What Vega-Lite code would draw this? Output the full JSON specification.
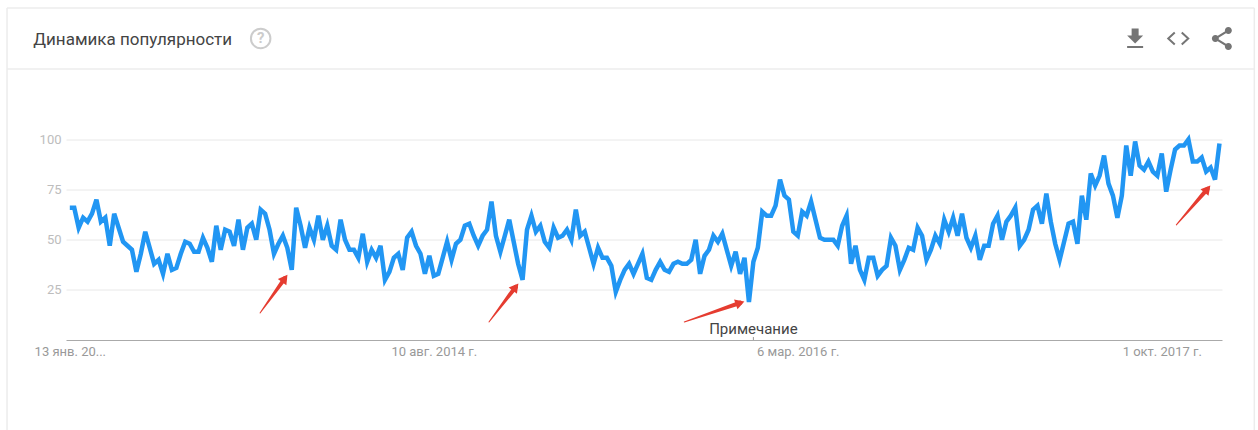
{"$schema":"https://vega.github.io/schema/vega-lite/v6.json","width":1156,"height":200.5,"autosize":"none","padding":{"left":66,"top":139.5,"right":36,"bottom":90},"background":"white","config":{"view":{"stroke":null}},
"title":{"text":"Динамика популярности","anchor":"start","dx":27,"offset":-42,"font":"Roboto","fontSize":17,"fontWeight":"normal","color":"#444444"},
"datasets":{
"trend":[{"d":"2013-01-13","v":66},{"d":"2013-01-20","v":66},{"d":"2013-01-27","v":56},{"d":"2013-02-03","v":61},{"d":"2013-02-10","v":59},{"d":"2013-02-17","v":63},{"d":"2013-02-24","v":70},{"d":"2013-03-03","v":59},{"d":"2013-03-10","v":61},{"d":"2013-03-17","v":47},{"d":"2013-03-24","v":63},{"d":"2013-03-31","v":56},{"d":"2013-04-07","v":49},{"d":"2013-04-14","v":47},{"d":"2013-04-21","v":45},{"d":"2013-04-28","v":34},{"d":"2013-05-05","v":43},{"d":"2013-05-12","v":54},{"d":"2013-05-19","v":46},{"d":"2013-05-26","v":38},{"d":"2013-06-02","v":40},{"d":"2013-06-09","v":33},{"d":"2013-06-16","v":43},{"d":"2013-06-23","v":35},{"d":"2013-06-30","v":36},{"d":"2013-07-07","v":43},{"d":"2013-07-14","v":49},{"d":"2013-07-21","v":48},{"d":"2013-07-28","v":44},{"d":"2013-08-04","v":44},{"d":"2013-08-11","v":51},{"d":"2013-08-18","v":46},{"d":"2013-08-25","v":39},{"d":"2013-09-01","v":57},{"d":"2013-09-08","v":45},{"d":"2013-09-15","v":55},{"d":"2013-09-22","v":54},{"d":"2013-09-29","v":47},{"d":"2013-10-06","v":60},{"d":"2013-10-13","v":45},{"d":"2013-10-20","v":56},{"d":"2013-10-27","v":58},{"d":"2013-11-03","v":50},{"d":"2013-11-10","v":65},{"d":"2013-11-17","v":63},{"d":"2013-11-24","v":55},{"d":"2013-12-01","v":43},{"d":"2013-12-08","v":48},{"d":"2013-12-15","v":52},{"d":"2013-12-22","v":46},{"d":"2013-12-29","v":35},
{"d":"2014-01-05","v":66},{"d":"2014-01-12","v":57},{"d":"2014-01-19","v":46},{"d":"2014-01-26","v":56},{"d":"2014-02-02","v":50},{"d":"2014-02-09","v":62},{"d":"2014-02-16","v":50},{"d":"2014-02-23","v":57},{"d":"2014-03-02","v":47},{"d":"2014-03-09","v":45},{"d":"2014-03-16","v":60},{"d":"2014-03-23","v":50},{"d":"2014-03-30","v":45},{"d":"2014-04-06","v":45},{"d":"2014-04-13","v":41},{"d":"2014-04-20","v":53},{"d":"2014-04-27","v":39},{"d":"2014-05-04","v":45},{"d":"2014-05-11","v":41},{"d":"2014-05-18","v":47},{"d":"2014-05-25","v":30},{"d":"2014-06-01","v":34},{"d":"2014-06-08","v":41},{"d":"2014-06-15","v":43},{"d":"2014-06-22","v":35},{"d":"2014-06-29","v":51},{"d":"2014-07-06","v":54},{"d":"2014-07-13","v":47},{"d":"2014-07-20","v":43},{"d":"2014-07-27","v":33},{"d":"2014-08-03","v":42},{"d":"2014-08-10","v":32},{"d":"2014-08-17","v":33},{"d":"2014-08-24","v":41},{"d":"2014-08-31","v":49},{"d":"2014-09-07","v":40},{"d":"2014-09-14","v":48},{"d":"2014-09-21","v":50},{"d":"2014-09-28","v":57},{"d":"2014-10-05","v":58},{"d":"2014-10-12","v":52},{"d":"2014-10-19","v":47},{"d":"2014-10-26","v":52},{"d":"2014-11-02","v":55},{"d":"2014-11-09","v":69},{"d":"2014-11-16","v":52},{"d":"2014-11-23","v":44},{"d":"2014-11-30","v":52},{"d":"2014-12-07","v":60},{"d":"2014-12-14","v":49},{"d":"2014-12-21","v":38},{"d":"2014-12-28","v":30},
{"d":"2015-01-04","v":55},{"d":"2015-01-11","v":62},{"d":"2015-01-18","v":54},{"d":"2015-01-25","v":57},{"d":"2015-02-01","v":49},{"d":"2015-02-08","v":46},{"d":"2015-02-15","v":56},{"d":"2015-02-22","v":51},{"d":"2015-03-01","v":52},{"d":"2015-03-08","v":55},{"d":"2015-03-15","v":50},{"d":"2015-03-22","v":65},{"d":"2015-03-29","v":52},{"d":"2015-04-05","v":54},{"d":"2015-04-12","v":46},{"d":"2015-04-19","v":38},{"d":"2015-04-26","v":46},{"d":"2015-05-03","v":41},{"d":"2015-05-10","v":41},{"d":"2015-05-17","v":37},{"d":"2015-05-24","v":24},{"d":"2015-05-31","v":30},{"d":"2015-06-07","v":35},{"d":"2015-06-14","v":38},{"d":"2015-06-21","v":33},{"d":"2015-06-28","v":38},{"d":"2015-07-05","v":43},{"d":"2015-07-12","v":31},{"d":"2015-07-19","v":30},{"d":"2015-07-26","v":35},{"d":"2015-08-02","v":39},{"d":"2015-08-09","v":35},{"d":"2015-08-16","v":34},{"d":"2015-08-23","v":38},{"d":"2015-08-30","v":39},{"d":"2015-09-06","v":38},{"d":"2015-09-13","v":38},{"d":"2015-09-20","v":40},{"d":"2015-09-27","v":50},{"d":"2015-10-04","v":33},{"d":"2015-10-11","v":42},{"d":"2015-10-18","v":45},{"d":"2015-10-25","v":52},{"d":"2015-11-01","v":49},{"d":"2015-11-08","v":53},{"d":"2015-11-15","v":45},{"d":"2015-11-22","v":37},{"d":"2015-11-29","v":44},{"d":"2015-12-06","v":33},{"d":"2015-12-13","v":41},{"d":"2015-12-20","v":19},{"d":"2015-12-27","v":39},
{"d":"2016-01-03","v":46},{"d":"2016-01-10","v":64},{"d":"2016-01-17","v":62},{"d":"2016-01-24","v":62},{"d":"2016-01-31","v":67},{"d":"2016-02-07","v":80},{"d":"2016-02-14","v":72},{"d":"2016-02-21","v":70},{"d":"2016-02-28","v":54},{"d":"2016-03-06","v":52},{"d":"2016-03-13","v":64},{"d":"2016-03-20","v":62},{"d":"2016-03-27","v":69},{"d":"2016-04-03","v":60},{"d":"2016-04-10","v":51},{"d":"2016-04-17","v":50},{"d":"2016-04-24","v":50},{"d":"2016-05-01","v":50},{"d":"2016-05-08","v":47},{"d":"2016-05-15","v":57},{"d":"2016-05-22","v":62},{"d":"2016-05-29","v":38},{"d":"2016-06-05","v":47},{"d":"2016-06-12","v":35},{"d":"2016-06-19","v":30},{"d":"2016-06-26","v":41},{"d":"2016-07-03","v":41},{"d":"2016-07-10","v":32},{"d":"2016-07-17","v":35},{"d":"2016-07-24","v":37},{"d":"2016-07-31","v":51},{"d":"2016-08-07","v":47},{"d":"2016-08-14","v":35},{"d":"2016-08-21","v":40},{"d":"2016-08-28","v":46},{"d":"2016-09-04","v":45},{"d":"2016-09-11","v":56},{"d":"2016-09-18","v":52},{"d":"2016-09-25","v":40},{"d":"2016-10-02","v":45},{"d":"2016-10-09","v":52},{"d":"2016-10-16","v":48},{"d":"2016-10-23","v":60},{"d":"2016-10-30","v":54},{"d":"2016-11-06","v":61},{"d":"2016-11-13","v":52},{"d":"2016-11-20","v":63},{"d":"2016-11-27","v":51},{"d":"2016-12-04","v":46},{"d":"2016-12-11","v":52},{"d":"2016-12-18","v":40},{"d":"2016-12-25","v":47},
{"d":"2017-01-01","v":47},{"d":"2017-01-08","v":58},{"d":"2017-01-15","v":62},{"d":"2017-01-22","v":50},{"d":"2017-01-29","v":59},{"d":"2017-02-05","v":62},{"d":"2017-02-12","v":66},{"d":"2017-02-19","v":47},{"d":"2017-02-26","v":50},{"d":"2017-03-05","v":55},{"d":"2017-03-12","v":65},{"d":"2017-03-19","v":67},{"d":"2017-03-26","v":58},{"d":"2017-04-02","v":73},{"d":"2017-04-09","v":59},{"d":"2017-04-16","v":48},{"d":"2017-04-23","v":40},{"d":"2017-04-30","v":49},{"d":"2017-05-07","v":58},{"d":"2017-05-14","v":59},{"d":"2017-05-21","v":48},{"d":"2017-05-28","v":72},{"d":"2017-06-04","v":60},{"d":"2017-06-11","v":83},{"d":"2017-06-18","v":77},{"d":"2017-06-25","v":82},{"d":"2017-07-02","v":92},{"d":"2017-07-09","v":78},{"d":"2017-07-16","v":72},{"d":"2017-07-23","v":61},{"d":"2017-07-30","v":72},{"d":"2017-08-06","v":97},{"d":"2017-08-13","v":82},{"d":"2017-08-20","v":99},{"d":"2017-08-27","v":87},{"d":"2017-09-03","v":85},{"d":"2017-09-10","v":89},{"d":"2017-09-17","v":84},{"d":"2017-09-24","v":82},{"d":"2017-10-01","v":93},{"d":"2017-10-08","v":74},{"d":"2017-10-15","v":85},{"d":"2017-10-22","v":95},{"d":"2017-10-29","v":97},{"d":"2017-11-05","v":97},{"d":"2017-11-12","v":100},{"d":"2017-11-19","v":89},{"d":"2017-11-26","v":89},{"d":"2017-12-03","v":91},{"d":"2017-12-10","v":84},{"d":"2017-12-17","v":86},{"d":"2017-12-24","v":80},{"d":"2017-12-31","v":98}],
"arrows":[{"a":"1","d":"2013-11-09","v":13.5,"w":0},{"a":"1","d":"2013-12-18","v":30.7,"w":1},{"a":"2","d":"2014-11-05","v":9,"w":0},{"a":"2","d":"2014-12-17","v":26.4,"w":1},{"a":"3","d":"2015-09-09","v":9,"w":0},{"a":"3","d":"2015-12-06","v":18.5,"w":1},{"a":"4","d":"2017-10-24","v":57.4,"w":0},{"a":"4","d":"2017-12-12","v":75.3,"w":1}],
"heads":[{"d":"2013-12-18","v":30.7,"dir":36},{"d":"2014-12-17","v":26.4,"dir":38},{"d":"2015-12-06","v":18.5,"dir":71},{"d":"2017-12-12","v":75.3,"dir":40}],
"frame":[{"x":"2012-10-06","x2":"2018-02-24","y":165.6,"y2":165.6},{"x":"2012-10-06","x2":"2018-02-24","y":135.2,"y2":135.2},{"x":"2012-10-06","x2":"2012-10-06","y":165.6,"y2":-45},{"x":"2018-02-24","x2":"2018-02-24","y":165.6,"y2":-45}],
"note":[{"d":"2015-12-27","v":5.5,"v0":0,"v1":1.5,"label":"Примечание"}]
},
"layer":[
{"data":{"name":"frame"},"mark":{"type":"rule","color":"#ececec","strokeWidth":1.5},"encoding":{"x":{"field":"x","type":"temporal","scale":{"domain":["2013-01-07","2018-01-04"]},"axis":{"title":null,"values":["2013-01-13","2014-08-10","2016-03-06","2017-10-01"],"labelExpr":"{'2013':'13 янв. 20...','2014':'10 авг. 2014 г.','2016':'6 мар. 2016 г.','2017':'1 окт. 2017 г.'}[utcFormat(datum.value,'%Y')]","grid":false,"ticks":false,"domainColor":"#aaaaaa","domainWidth":1,"labelFont":"Roboto","labelFontSize":13,"labelColor":"#999999","labelPadding":5,"labelOverlap":false,"labelBound":false,"labelFlush":false}},"x2":{"field":"x2"},"y":{"field":"y","type":"quantitative","scale":{"domain":[0,100],"nice":false},"axis":{"title":null,"values":[25,50,75,100],"domain":false,"ticks":false,"grid":true,"gridColor":"#e8e8e8","gridWidth":1,"labelFont":"Roboto","labelFontSize":13,"labelColor":"#bdbdbd","labelPadding":5}},"y2":{"field":"y2"}}},
{"data":{"name":"trend"},"mark":{"type":"line","color":"#2196f3","strokeWidth":4.5,"strokeJoin":"miter"},"encoding":{"x":{"field":"d","type":"temporal","scale":{"domain":["2013-01-07","2018-01-04"]}},"y":{"field":"v","type":"quantitative","scale":{"domain":[0,100],"nice":false}}}},
{"data":{"name":"arrows"},"mark":{"type":"trail","color":"#e53c30"},"encoding":{"x":{"field":"d","type":"temporal","scale":{"domain":["2013-01-07","2018-01-04"]}},"y":{"field":"v","type":"quantitative","scale":{"domain":[0,100],"nice":false}},"detail":{"field":"a"},"size":{"field":"w","type":"quantitative","scale":{"domain":[0,1],"range":[1,4.5]},"legend":null}}},
{"data":{"name":"heads"},"mark":{"type":"point","shape":"triangle-up","filled":true,"color":"#e53c30","size":110,"opacity":1},"encoding":{"x":{"field":"d","type":"temporal","scale":{"domain":["2013-01-07","2018-01-04"]}},"y":{"field":"v","type":"quantitative","scale":{"domain":[0,100],"nice":false}},"angle":{"field":"dir","type":"quantitative","scale":null}}},
{"data":{"name":"note"},"mark":{"type":"rule","color":"#999999","strokeWidth":1},"encoding":{"x":{"field":"d","type":"temporal","scale":{"domain":["2013-01-07","2018-01-04"]}},"y":{"field":"v0","type":"quantitative","scale":{"domain":[0,100],"nice":false}},"y2":{"field":"v1"}}},
{"data":{"name":"note"},"mark":{"type":"text","font":"Roboto","fontSize":15,"color":"#444444","align":"center","baseline":"middle"},"encoding":{"x":{"field":"d","type":"temporal","scale":{"domain":["2013-01-07","2018-01-04"]}},"y":{"field":"v","type":"quantitative","scale":{"domain":[0,100],"nice":false}},"text":{"field":"label"}}},
{"data":{"values":[{"d":"2013-11-10","v":150.4}]},"mark":{"type":"point","shape":"circle","filled":false,"color":"#cccccc","strokeWidth":2,"size":380,"opacity":1},"encoding":{"x":{"field":"d","type":"temporal","scale":{"domain":["2013-01-07","2018-01-04"]}},"y":{"field":"v","type":"quantitative","scale":{"domain":[0,100],"nice":false}}}},
{"data":{"values":[{"d":"2013-11-10","v":150.4,"t":"?"}]},"mark":{"type":"text","font":"Roboto","fontSize":15,"fontWeight":"bold","color":"#cccccc","align":"center","baseline":"middle"},"encoding":{"x":{"field":"d","type":"temporal","scale":{"domain":["2013-01-07","2018-01-04"]}},"y":{"field":"v","type":"quantitative","scale":{"domain":[0,100],"nice":false}},"text":{"field":"t"}}},
{"data":{"values":[{"d":"2017-08-20","v":150.4}]},"mark":{"type":"point","shape":"M-0.35,-1 L0.35,-1 L0.35,-0.3 L0.8,-0.3 L0,0.5 L-0.8,-0.3 L-0.35,-0.3 Z M-0.8,0.75 L0.8,0.75 L0.8,0.95 L-0.8,0.95 Z","filled":true,"color":"#757575","size":400,"opacity":1},"encoding":{"x":{"field":"d","type":"temporal","scale":{"domain":["2013-01-07","2018-01-04"]}},"y":{"field":"v","type":"quantitative","scale":{"domain":[0,100],"nice":false}}}},
{"data":{"values":[{"d":"2017-10-27","v":150.4}]},"mark":{"type":"point","shape":"M-0.35,-0.6 L-1,0 L-0.35,0.6 M0.35,-0.6 L1,0 L0.35,0.6","filled":false,"color":"#757575","strokeWidth":2,"size":400,"opacity":1},"encoding":{"x":{"field":"d","type":"temporal","scale":{"domain":["2013-01-07","2018-01-04"]}},"y":{"field":"v","type":"quantitative","scale":{"domain":[0,100],"nice":false}}}},
{"data":{"values":[{"d":"2018-01-03","v":150.4}]},"mark":{"type":"point","shape":"M-0.95,0 a0.35,0.35 0 1,1 0.7,0 a0.35,0.35 0 1,1 -0.7,0 Z M0.35,-0.8 a0.35,0.35 0 1,1 0.7,0 a0.35,0.35 0 1,1 -0.7,0 Z M0.35,0.8 a0.35,0.35 0 1,1 0.7,0 a0.35,0.35 0 1,1 -0.7,0 Z M-0.6,-0.12 L0.7,-0.92 L0.7,-0.68 L-0.6,0.12 Z M-0.6,-0.12 L0.7,0.68 L0.7,0.92 L-0.6,0.12 Z","filled":true,"color":"#757575","size":400,"opacity":1},"encoding":{"x":{"field":"d","type":"temporal","scale":{"domain":["2013-01-07","2018-01-04"]}},"y":{"field":"v","type":"quantitative","scale":{"domain":[0,100],"nice":false}}}}
]}
